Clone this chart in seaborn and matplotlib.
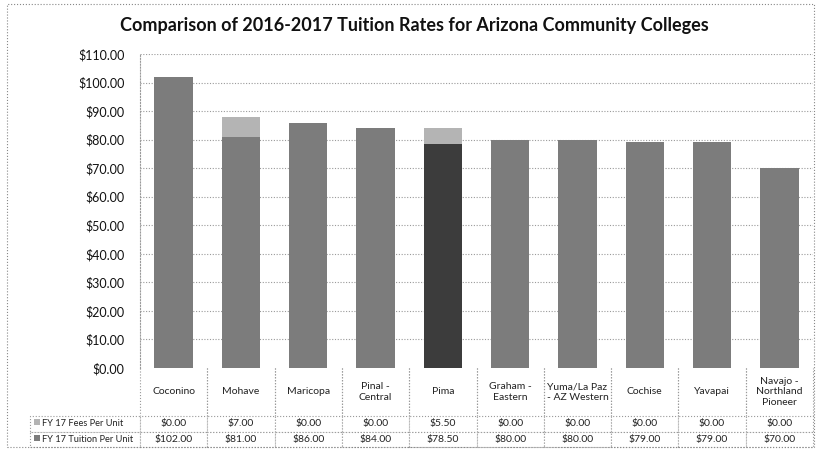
import matplotlib
matplotlib.use("Agg")
import matplotlib.pyplot as plt
import seaborn as sns
import numpy as np
from matplotlib.patches import Rectangle

categories = ["Coconino", "Mohave", "Maricopa", "Pinal -\nCentral", "Pima",
              "Graham -\nEastern", "Yuma/La Paz\n- AZ Western", "Cochise",
              "Yavapai", "Navajo -\nNorthland\nPioneer"]
fees = [0.00, 7.00, 0.00, 0.00, 5.50, 0.00, 0.00, 0.00, 0.00, 0.00]
tuition = [102.00, 81.00, 86.00, 84.00, 78.50, 80.00, 80.00, 79.00, 79.00, 70.00]
series_labels = ["FY 17 Fees Per Unit", "FY 17 Tuition Per Unit"]
yticks = [0, 10, 20, 30, 40, 50, 60, 70, 80, 90, 100, 110]

sns.set_theme(style="white")
plt.rcParams["font.family"] = ["Lato", "DejaVu Sans"]

fee_color = "#b4b4b4"
bar_color = "#7c7c7c"
pima_color = "#3c3c3c"
grid_color = "#9a9a9a"

W, H = 817, 450
fig = plt.figure(figsize=(W / 100, H / 100), dpi=100)
ax_left, ax_right, ax_top, ax_bottom = 140, 813, 54, 368
ax = fig.add_axes([ax_left / W, 1 - ax_bottom / H, (ax_right - ax_left) / W, (ax_bottom - ax_top) / H])

totals = [t + f for t, f in zip(tuition, fees)]
x_idx = list(range(len(categories)))
sns.barplot(x=x_idx, y=totals, color=fee_color, width=0.57, ax=ax, saturation=1,
            linewidth=0)
tuit_colors = [pima_color if c == "Pima" else bar_color for c in categories]
sns.barplot(x=x_idx, y=tuition, hue=x_idx, palette=tuit_colors, width=0.57,
            ax=ax, saturation=1, legend=False, linewidth=0)

ax.set_ylim(0, 110)
ax.set_xlim(-0.5, len(categories) - 0.5)
ax.set_yticks(yticks)
ax.set_yticklabels([f"${v:.2f}" for v in yticks], fontsize=9, color="#111111")
ax.set_xticks([])
ax.set_xlabel("")
ax.set_ylabel("")
ax.tick_params(axis="y", length=0, pad=11)
for y in yticks[1:]:
    ax.axhline(y, color=grid_color, linestyle=(0, (1, 1.5)), linewidth=0.8, zorder=0)
for s in ["top", "right", "bottom"]:
    ax.spines[s].set_visible(False)
ax.spines["left"].set_color(grid_color)
ax.spines["left"].set_linestyle(":")
ax.spines["left"].set_linewidth(0.8)
ax.set_axisbelow(True)

# data table
rows = [[""] + categories,
        [series_labels[0]] + [f"${v:.2f}" for v in fees],
        [series_labels[1]] + [f"${v:.2f}" for v in tuition]]
axw = ax_right - ax_left
axh = ax_bottom - ax_top
tab_left = 30
tab_bottom = 447
tbl = ax.table(cellText=rows, cellLoc="center",
               bbox=[(tab_left - ax_left) / axw, -(tab_bottom - ax_bottom) / axh,
                     (ax_right - tab_left) / axw, (tab_bottom - ax_bottom) / axh])
tbl.auto_set_font_size(False)
col_w = axw / len(categories)
heights = [48, 15.5, 15.5]
for (r, c), cell in tbl.get_celld().items():
    cell.set_height(heights[r])
    cell.set_width(ax_left - tab_left if c == 0 else col_w)
    cell.set_edgecolor(grid_color)
    cell.set_linestyle(":")
    cell.set_linewidth(0.8)
    cell.get_text().set_fontsize(7.5)
    cell.get_text().set_color("#222222")
    if r == 0 and c == 0:
        cell.set_edgecolor("none")
    if r == 0 and c > 0:
        cell.visible_edges = "LR"
    if c == 0 and r > 0:
        cell.PAD = 0.11
        cell.get_text().set_ha("left")
        cell._loc = "left"
        cell.get_text().set_fontsize(6.7)

# legend keys in the table
for i, col in enumerate([fee_color, bar_color]):
    yk = [422, 438][i]
    fig.patches.append(Rectangle((34 / W, 1 - (yk + 3) / H), 6 / W, 6 / H,
                                 transform=fig.transFigure, facecolor=col,
                                 edgecolor="none"))

fig.text(0.507, 1 - 25 / H, "Comparison of 2016-2017 Tuition Rates for Arizona Community Colleges",
         ha="center", va="center", fontsize=13, fontweight="bold", color="#111111")

fig.patches.append(Rectangle((7 / W, 1 - 447 / H), (814 - 7) / W, (447 - 4) / H,
                             transform=fig.transFigure, fill=False,
                             edgecolor="#888888", linestyle=":", linewidth=0.8))

fig.savefig("out.png", dpi=100)
